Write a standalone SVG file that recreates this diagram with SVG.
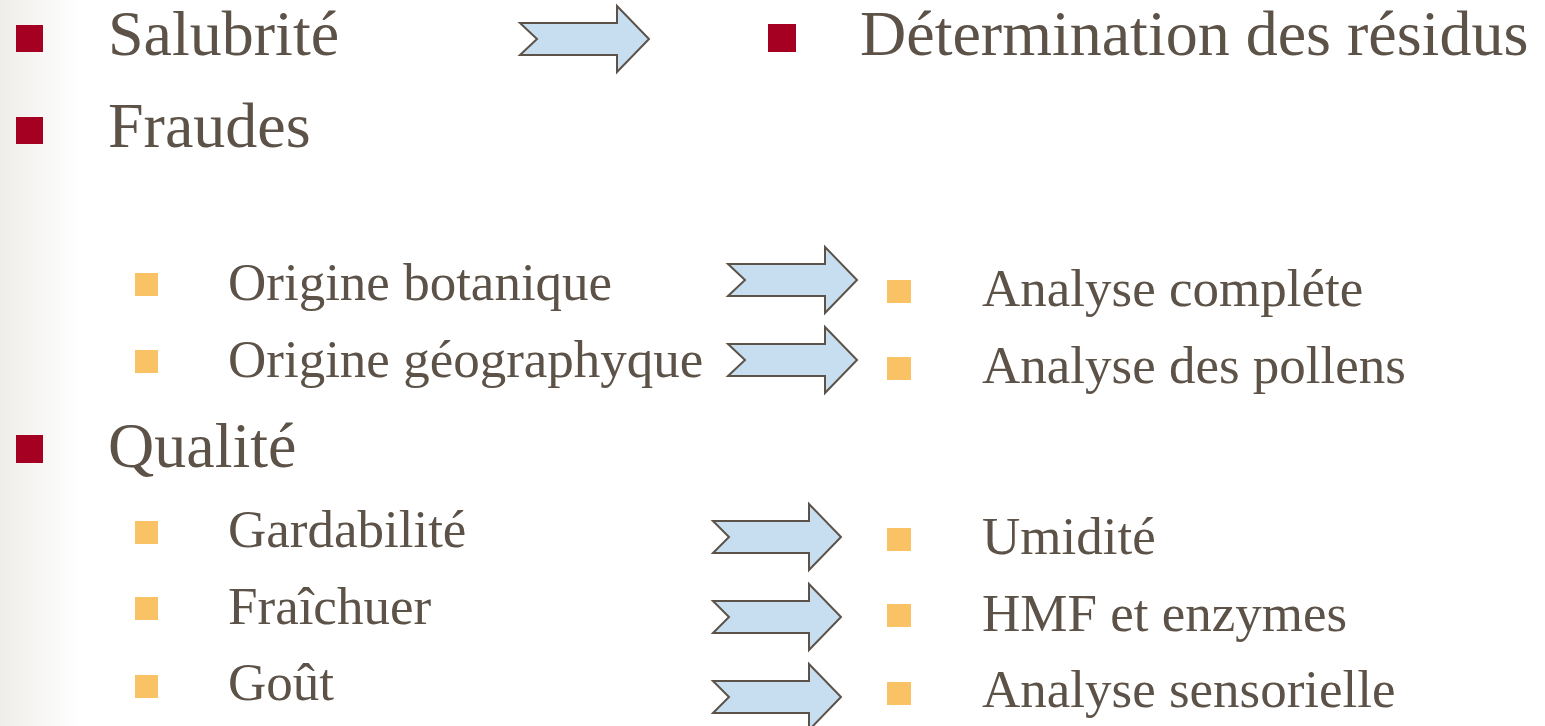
<svg xmlns="http://www.w3.org/2000/svg" width="1545" height="726" viewBox="0 0 1545 726">
<defs>
<linearGradient id="edge" x1="0" y1="0" x2="1" y2="0">
<stop offset="0" stop-color="#eeede9"/>
<stop offset="1" stop-color="#ffffff"/>
</linearGradient>
<style>
.t{font-family:"Liberation Serif","Times New Roman",serif;fill:#5c5248}
.h{font-size:64px}
.s{font-size:53px}
.rb{fill:#a50021}
.ob{fill:#f9c264}
.ar{fill:#c7ddf0;stroke:#5c5248;stroke-width:2;stroke-linejoin:miter}
</style>
</defs>
<rect x="0" y="0" width="1545" height="726" fill="#ffffff"/>
<rect x="0" y="0" width="80" height="726" fill="url(#edge)"/>

<g id="salubrite"><rect class="rb" x="16" y="25" width="27" height="27"/><text class="t h" x="108" y="55">Salubrité</text></g>
<g id="determination"><rect class="rb" x="768" y="24" width="28" height="28"/><text class="t h" x="860" y="55">Détermination des résidus</text></g>
<g id="fraudes"><rect class="rb" x="16" y="117" width="27" height="27"/><text class="t h" x="108" y="147">Fraudes</text></g>
<g id="origine-botanique"><rect class="ob" x="135" y="273" width="23" height="23"/><text class="t s" x="228" y="300">Origine botanique</text></g>
<g id="origine-geographyque"><rect class="ob" x="135" y="350" width="23" height="23"/><text class="t s" x="228" y="377">Origine géographyque</text></g>
<g id="analyse-complete"><rect class="ob" x="887" y="280" width="24" height="23"/><text class="t s" x="982" y="306">Analyse compléte</text></g>
<g id="analyse-pollens"><rect class="ob" x="887" y="357" width="24" height="23"/><text class="t s" x="982" y="383">Analyse des pollens</text></g>
<g id="qualite"><rect class="rb" x="16" y="435" width="27" height="28"/><text class="t h" x="108" y="467">Qualité</text></g>
<g id="gardabilite"><rect class="ob" x="135" y="521" width="23" height="23"/><text class="t s" x="228" y="547">Gardabilité</text></g>
<g id="fraichuer"><rect class="ob" x="135" y="597" width="23" height="23"/><text class="t s" x="228" y="624">Fraîchuer</text></g>
<g id="gout"><rect class="ob" x="135" y="675" width="23" height="23"/><text class="t s" x="228" y="700">Goût</text></g>
<g id="umidite"><rect class="ob" x="887" y="528" width="24" height="23"/><text class="t s" x="982" y="554">Umidité</text></g>
<g id="hmf"><rect class="ob" x="887" y="604" width="24" height="23"/><text class="t s" x="982" y="631">HMF et enzymes</text></g>
<g id="analyse-sensorielle"><rect class="ob" x="887" y="682" width="24" height="23"/><text class="t s" x="982" y="707">Analyse sensorielle</text></g>

<g id="connectors">
<polygon class="ar" points="520,23 617,23 617,6 649,39 617,72 617,55 520,55 537,39"/>
<polygon class="ar" points="728,264 825,264 825,247 857,280 825,313 825,296 728,296 745,280"/>
<polygon class="ar" points="728,344 825,344 825,327 857,360 825,393 825,376 728,376 745,360"/>
<polygon class="ar" points="713,521 809,521 809,504 841,537 809,570 809,553 713,553 729,537"/>
<polygon class="ar" points="713,601 809,601 809,584 841,617 809,650 809,633 713,633 729,617"/>
<polygon class="ar" points="713,681 809,681 809,664 841,697 809,730 809,713 713,713 729,697"/>
</g>
</svg>
